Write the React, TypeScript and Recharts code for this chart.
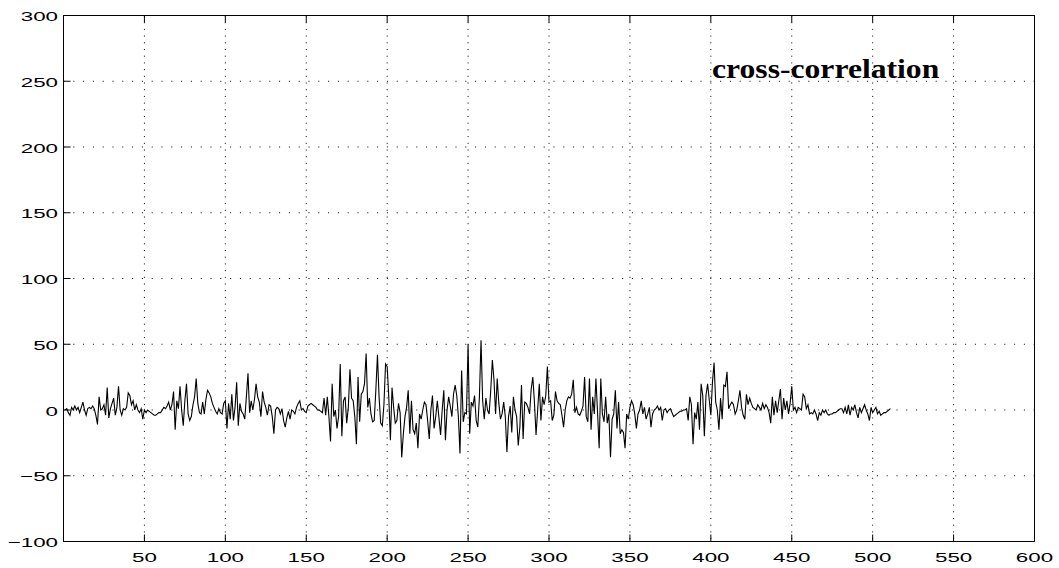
import { LineChart, Line, XAxis, YAxis, CartesianGrid } from 'recharts';

// cross-correlation values, lag 1..511
const xcorr: number[] = [
  0, 1, -2, -4, 2, 0, 3, 0, 2, -2,
  2, 6, 0, -4, 1, 2, 1, 3, 1, -4,
  -11, 10, 0, 1, 4, -4, 17, -6, 1, 5,
  9, -4, 2, 18, 0, -4, 1, 0, 2, 13,
  11, 4, 7, 0, 4, 0, -2, 1, -7, 0,
  -2, 0, -1, -2, -3, -4, -4, -3, -2, -2,
  0, 2, 1, 3, 6, 0, 4, 14, -15, 7,
  1, 18, 0, -12, 7, 20, -3, -8, -5, 4,
  10, 24, 5, -2, -3, 6, -3, 8, 15, 13,
  10, 5, 2, -1, -3, 1, -2, -3, 5, 7,
  -14, 5, -7, 12, -8, 2, 21, -12, 5, -1,
  -3, -7, 10, 28, -2, 7, 0, 8, 20, 10,
  6, -5, 14, 6, 2, -4, 4, 3, -5, -18,
  0, 2, 1, -3, 1, -8, -13, -6, -1, -7,
  0, -1, -3, 2, 5, 7, 0, 1, -1, -2,
  3, 4, 5, 4, 3, 2, 0, 0, -1, -2,
  9, -4, 10, -5, -24, 20, -5, 0, -14, -5,
  35, -20, 7, 10, -10, 2, 31, 9, 7, -5,
  -26, 25, -9, 12, 14, 20, 43, 2, 9, -3,
  -9, -8, 15, 42, 10, -10, -12, 4, 35, 33,
  10, -23, 17, 2, -10, -8, 5, -2, -36, -18,
  -5, 2, 15, -18, 7, -15, -18, -10, -29, -3,
  -7, 0, 6, 4, -8, -22, 0, 11, -14, -5,
  7, -6, -19, 0, 15, -23, 0, 10, 3, -5,
  12, 19, 11, -5, -33, 30, -9, -2, -3, 50,
  -18, 6, 3, 11, -8, -13, 10, 53, 7, -7,
  9, 0, -3, 15, 38, 23, -3, 24, 5, -7,
  -3, 6, -5, -32, -5, 3, -17, 10, 0, -5,
  -27, -13, 19, -22, 6, 5, 2, -3, 16, 25,
  6, -19, 0, 20, -8, 10, 4, 11, 33, 6,
  7, -8, -4, 14, 7, 5, 4, -4, -13, 0,
  7, 10, 9, 12, 23, -2, 2, -3, -4, -1,
  3, 25, -5, -9, 24, -15, 10, -3, 24, -2,
  -29, 24, -3, -9, 10, -10, -3, -36, -7, -3,
  15, -14, 6, -18, -15, -17, -29, -3, -7, 2,
  7, 4, -3, -14, -3, 0, 7, -3, 2, -7,
  -3, 2, -13, -3, 0, 1, 3, 0, 2, -8,
  0, 1, -2, 0, 1, -2, -5, -4, -3, -2,
  -1, -1, 0, 0, 1, -8, 10, 4, -26, -2,
  -7, 6, -15, 20, 11, -20, 11, 20, 8, -4,
  21, 36, 6, 0, -15, 9, -7, 19, 18, 29,
  1, 4, 6, 4, -3, 0, 7, 15, 2, -4,
  -7, 12, 4, 9, 5, 2, 1, 0, 4, 2,
  0, 5, 1, 4, 2, -2, -10, 10, -4, 7,
  -2, 7, 16, -7, 9, 0, 7, -3, 5, 18,
  0, 2, -2, 2, 1, 0, 12, 10, 1, 4,
  -3, -2, -3, 0, -3, -8, -2, -4, 0, -2,
  0, -3, -4, -3, -3, -2, -2, -1, 0, 1,
  1, -2, 2, -3, 4, -4, 2, 0, 4, -2,
  -6, 2, -2, 1, 4, 0, -3, -8, 2, -2,
  0, 2, -3, -1, -4, -3, -2, -2, -1, 0,
  1,
];

const xTicks = [50, 100, 150, 200, 250, 300, 350, 400, 450, 500, 550, 600];
const yTicks = [-100, -50, 0, 50, 100, 150, 200, 250, 300];
const title = 'cross-correlation';

const data = xcorr.map((v, i) => ({ lag: i + 1, value: v }));

const TICK_LEN = 7;
const SANS = '"Liberation Sans", Arial, Helvetica, sans-serif';
const STRETCH = 1.72;

const fmt = (v: number) => (v < 0 ? `\u2212${Math.abs(v)}` : String(v));

function BottomTick({ x, y, payload }: any) {
  return (
    <g>
      <line x1={x} x2={x} y1={y} y2={y - TICK_LEN} stroke="#000" />
      <text
        transform={`translate(${x},${y + 20.5}) scale(${STRETCH},1)`}
        textAnchor="middle"
        fontFamily={SANS}
        fontSize={13}
        fill="#000"
      >
        {fmt(payload.value)}
      </text>
    </g>
  );
}

function TopTick({ x, y }: any) {
  return <line x1={x} x2={x} y1={y} y2={y + TICK_LEN} stroke="#000" />;
}

function LeftTick({ x, y, payload }: any) {
  return (
    <g>
      <line x1={x} x2={x + TICK_LEN} y1={y} y2={y} stroke="#000" />
      <text
        transform={`translate(${x - 5.5},${y + 5.5}) scale(${STRETCH},1)`}
        textAnchor="end"
        fontFamily={SANS}
        fontSize={13}
        fill="#000"
      >
        {fmt(payload.value)}
      </text>
    </g>
  );
}

function RightTick({ x, y }: any) {
  return <line x1={x} x2={x - TICK_LEN} y1={y} y2={y} stroke="#000" />;
}

export default function App() {
  return (
    <div style={{ position: 'absolute', left: 0, top: 0, width: 1059, height: 568, background: '#fff' }}>
      <LineChart
        width={1059}
        height={568}
        data={data}
        margin={{ top: 0, right: 0, bottom: 0, left: 0 }}
      >
        <CartesianGrid horizontal={false} stroke="#000" strokeDasharray="1 5.7" />
        <CartesianGrid vertical={false} stroke="#000" strokeDasharray="1 8.8" />
        <XAxis
          dataKey="lag"
          type="number"
          domain={[0, 600]}
          ticks={xTicks}
          height={26.5}
          tickSize={0}
          tickMargin={0}
          tickLine={false}
          axisLine={{ stroke: '#000' }}
          tick={<BottomTick />}
          interval={0}
        />
        <XAxis
          xAxisId="top"
          orientation="top"
          dataKey="lag"
          type="number"
          domain={[0, 600]}
          ticks={xTicks}
          height={15.5}
          tickSize={0}
          tickMargin={0}
          tickLine={false}
          axisLine={{ stroke: '#000' }}
          tick={<TopTick />}
          interval={0}
        />
        <YAxis
          type="number"
          domain={[-100, 300]}
          ticks={yTicks}
          width={63.5}
          tickSize={0}
          tickMargin={0}
          tickLine={false}
          axisLine={{ stroke: '#000' }}
          tick={<LeftTick />}
          interval={0}
        />
        <YAxis
          yAxisId="right"
          orientation="right"
          type="number"
          domain={[-100, 300]}
          ticks={yTicks}
          width={24.5}
          tickSize={0}
          tickMargin={0}
          tickLine={false}
          axisLine={{ stroke: '#000' }}
          tick={<RightTick />}
          interval={0}
        />
        <Line
          type="linear"
          dataKey="value"
          stroke="#000"
          strokeWidth={1.1}
          dot={false}
          isAnimationActive={false}
        />
      </LineChart>
      <div
        style={{
          position: 'absolute',
          left: 712,
          top: 55,
          fontFamily: '"Liberation Serif", "Times New Roman", serif',
          fontWeight: 'bold',
          fontSize: 28,
          lineHeight: '28px',
          whiteSpace: 'nowrap',
          transform: 'scaleX(1.13)',
          transformOrigin: 'left top',
          color: '#000',
        }}
      >
        {title}
      </div>
    </div>
  );
}
